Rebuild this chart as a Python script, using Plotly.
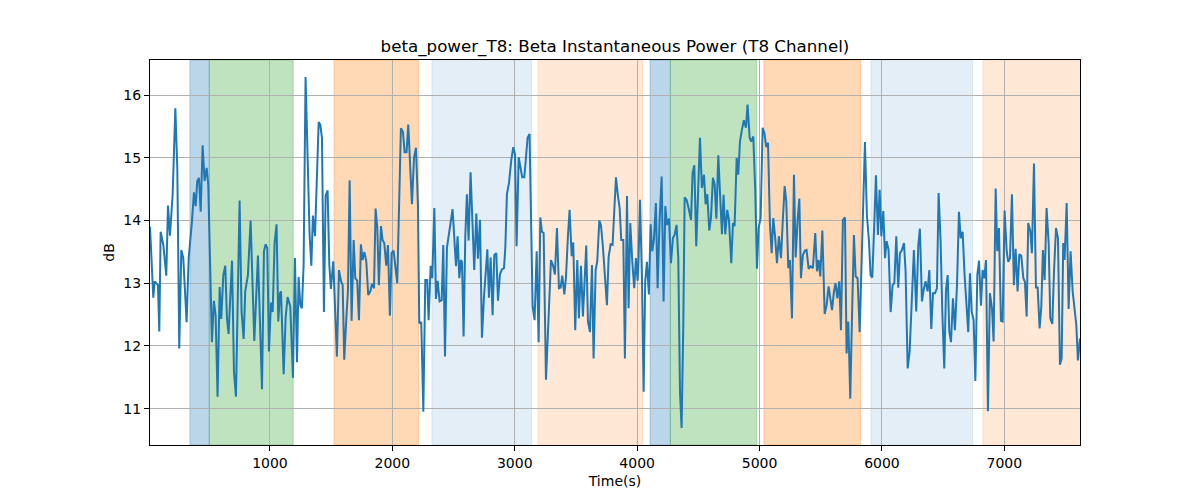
import plotly.graph_objects as go

# sample times (s) and beta power (dB)
time_s = [
    20, 47, 58, 74, 85, 96, 107, 129, 153, 167, 183, 205, 227, 243, 259, 276, 292, 319, 336, 363,
    379, 393, 406, 420, 434, 450, 466, 483, 496, 526, 542, 556, 572, 589, 602, 619, 635, 649, 662, 690,
    706, 722, 752, 768, 785, 798, 820, 842, 872, 902, 918, 935, 951, 965, 978, 992, 1008, 1022, 1038, 1054,
    1068, 1082, 1090, 1112, 1128, 1144, 1166, 1188, 1204, 1221, 1234, 1248, 1261, 1275, 1291, 1308, 1324, 1338, 1351, 1368,
    1381, 1398, 1411, 1425, 1441, 1455, 1471, 1485, 1498, 1507, 1517, 1531, 1547, 1564, 1580, 1594, 1607, 1624, 1637, 1651,
    1667, 1684, 1697, 1713, 1727, 1743, 1757, 1771, 1787, 1803, 1820, 1833, 1850, 1863, 1877, 1890, 1907, 1920, 1934, 1950,
    1964, 1980, 1994, 2010, 2027, 2040, 2070, 2087, 2100, 2116, 2130, 2160, 2177, 2193, 2209, 2220, 2236, 2253, 2269, 2285,
    2296, 2313, 2326, 2343, 2356, 2370, 2386, 2403, 2416, 2430, 2446, 2462, 2476, 2492, 2506, 2520, 2533, 2547, 2560, 2569,
    2582, 2596, 2609, 2623, 2639, 2656, 2669, 2686, 2699, 2716, 2732, 2748, 2762, 2776, 2789, 2803, 2819, 2833, 2849, 2863,
    2879, 2895, 2912, 2923, 2936, 2953, 2972, 2988, 3002, 3015, 3032, 3048, 3061, 3078, 3091, 3105, 3121, 3146, 3162, 3179,
    3195, 3209, 3222, 3236, 3255, 3296, 3312, 3328, 3345, 3361, 3375, 3388, 3405, 3418, 3435, 3448, 3465, 3478, 3494, 3511,
    3524, 3541, 3557, 3571, 3584, 3598, 3614, 3631, 3644, 3661, 3674, 3691, 3704, 3720, 3737, 3753, 3767, 3783, 3799, 3813,
    3827, 3843, 3857, 3870, 3887, 3900, 3917, 3930, 3944, 3960, 3976, 3990, 4004, 4012, 4023, 4039, 4053, 4066, 4080, 4096,
    4110, 4123, 4137, 4153, 4167, 4183, 4200, 4216, 4230, 4243, 4260, 4276, 4292, 4306, 4322, 4336, 4350, 4363, 4377, 4388,
    4404, 4420, 4440, 4453, 4467, 4483, 4500, 4513, 4529, 4546, 4559, 4573, 4589, 4603, 4619, 4633, 4647, 4663, 4676, 4693,
    4706, 4720, 4736, 4750, 4769, 4783, 4796, 4813, 4826, 4840, 4856, 4872, 4889, 4902, 4919, 4932, 4949, 4965, 4979, 4992,
    5009, 5025, 5039, 5055, 5069, 5085, 5099, 5112, 5128, 5142, 5158, 5175, 5191, 5205, 5218, 5235, 5248, 5265, 5281, 5295,
    5311, 5325, 5338, 5354, 5371, 5384, 5401, 5417, 5436, 5455, 5469, 5483, 5496, 5513, 5532, 5548, 5564, 5578, 5592, 5608,
    5621, 5635, 5651, 5665, 5681, 5698, 5711, 5725, 5741, 5755, 5771, 5785, 5801, 5818, 5861, 5877, 5894, 5907, 5921, 5937,
    5951, 5967, 5981, 5995, 6011, 6025, 6038, 6054, 6071, 6087, 6101, 6117, 6133, 6147, 6163, 6180, 6193, 6210, 6226, 6242,
    6261, 6280, 6297, 6310, 6327, 6340, 6357, 6373, 6387, 6403, 6417, 6433, 6449, 6463, 6479, 6493, 6509, 6523, 6537, 6550,
    6564, 6580, 6596, 6613, 6629, 6643, 6659, 6675, 6689, 6705, 6719, 6733, 6749, 6763, 6779, 6793, 6809, 6822, 6836, 6850,
    6866, 6882, 6899, 6912, 6929, 6942, 6956, 6972, 6986, 7002, 7019, 7032, 7046, 7062, 7078, 7092, 7108, 7122, 7138, 7155,
    7168, 7182, 7195, 7212, 7225, 7242, 7258, 7272, 7288, 7302, 7315, 7329, 7345, 7362, 7375, 7392, 7405, 7422, 7438, 7454,
    7468, 7481, 7492, 7509, 7525, 7541, 7558, 7574, 7588, 7601, 7618,
]

power_db = [
    13.90, 12.77, 13.03, 13.00, 12.97, 12.23, 13.82, 13.61, 13.12, 14.24, 13.76, 14.41, 15.79, 14.84, 11.96, 13.53, 13.40, 12.38, 13.40, 13.99,
    14.45, 14.23, 14.63, 14.68, 14.14, 15.20, 14.63, 14.84, 14.57, 12.06, 12.72, 12.49, 11.19, 12.94, 12.43, 13.13, 13.28, 12.43, 12.19, 13.36,
    11.59, 11.19, 14.32, 12.55, 12.11, 12.87, 13.13, 14.00, 12.08, 13.44, 12.55, 11.31, 13.51, 13.62, 13.56, 11.91, 12.69, 12.54, 13.64, 13.94,
    12.39, 12.84, 12.87, 11.55, 12.45, 12.78, 12.63, 11.49, 13.40, 11.74, 13.10, 12.65, 12.60, 13.29, 16.29, 15.00, 13.77, 13.28, 14.08, 13.75,
    14.47, 15.57, 15.53, 15.32, 12.54, 14.40, 14.48, 13.29, 12.91, 13.13, 13.35, 12.65, 11.83, 13.21, 13.04, 12.97, 11.78, 12.44, 12.87, 14.64,
    12.40, 13.69, 13.08, 13.04, 12.41, 13.62, 13.37, 13.50, 13.35, 12.81, 12.87, 12.99, 12.92, 14.19, 13.88, 12.97, 13.91, 13.69, 13.64, 13.28,
    13.61, 12.48, 13.48, 13.52, 13.24, 13.00, 15.47, 15.41, 15.09, 15.09, 15.53, 14.26, 15.00, 15.16, 14.25, 12.36, 12.38, 10.95, 13.05, 13.05,
    12.41, 13.28, 13.08, 14.20, 12.75, 13.04, 12.71, 12.73, 13.61, 11.83, 13.57, 13.77, 13.91, 14.18, 13.72, 13.27, 13.75, 13.08, 13.37, 13.34,
    12.15, 13.75, 14.42, 13.68, 14.77, 13.83, 13.21, 14.11, 13.39, 14.01, 12.13, 12.76, 13.19, 13.54, 12.77, 13.41, 12.49, 13.45, 13.48, 12.72,
    13.14, 13.22, 13.24, 13.57, 14.42, 14.60, 14.97, 15.17, 15.06, 13.59, 15.01, 14.81, 14.69, 14.69, 14.97, 15.32, 15.38, 12.63, 12.41, 13.51,
    12.06, 14.05, 13.82, 13.80, 11.46, 13.37, 13.29, 13.14, 13.88, 12.92, 12.93, 13.12, 12.82, 13.08, 13.77, 14.17, 13.43, 13.65, 12.25, 13.37,
    12.44, 13.28, 12.47, 12.97, 13.60, 12.39, 12.22, 13.29, 11.80, 13.21, 13.35, 14.00, 13.93, 13.59, 13.03, 12.65, 13.42, 13.62, 13.61, 14.19,
    14.69, 14.39, 14.20, 13.69, 13.69, 11.80, 14.39, 12.60, 13.96, 13.35, 12.92, 13.40, 13.04, 13.41, 14.33, 13.13, 11.27, 13.03, 13.34, 12.82,
    13.94, 13.51, 13.69, 14.28, 12.92, 13.99, 14.70, 12.71, 14.23, 13.93, 14.03, 13.32, 13.72, 13.77, 13.93, 13.40, 11.27, 10.69, 12.33, 14.37,
    14.33, 14.20, 14.01, 14.76, 14.88, 13.59, 14.47, 15.32, 14.52, 14.73, 14.26, 14.42, 13.84, 14.04, 14.68, 14.58, 14.03, 15.04, 14.47, 13.78,
    14.41, 13.78, 14.17, 14.01, 13.32, 13.96, 13.91, 15.00, 14.73, 15.26, 15.45, 15.60, 15.48, 15.85, 15.32, 15.26, 15.34, 14.47, 13.23, 13.88,
    14.04, 15.48, 15.40, 15.17, 15.24, 13.93, 13.48, 14.04, 13.72, 13.32, 13.75, 13.40, 14.04, 14.55, 14.31, 13.24, 13.37, 12.44, 14.73, 13.41,
    14.01, 14.35, 13.08, 13.45, 13.52, 13.53, 13.23, 13.27, 13.24, 13.80, 13.19, 13.37, 13.11, 13.84, 12.51, 12.65, 12.95, 12.75, 12.57, 12.87,
    13.00, 12.76, 13.03, 12.25, 14.01, 14.05, 11.88, 12.39, 11.16, 12.44, 13.77, 13.11, 13.08, 12.22, 15.25, 14.09, 13.67, 13.13, 13.09, 13.93,
    14.72, 13.77, 14.49, 13.75, 14.15, 13.40, 13.67, 13.53, 12.54, 12.97, 13.00, 13.75, 12.93, 13.48, 13.53, 13.64, 13.19, 11.64, 11.91, 12.65,
    13.53, 12.55, 13.61, 13.87, 12.71, 12.89, 13.03, 12.87, 13.21, 12.27, 12.84, 12.84, 12.92, 14.44, 13.67, 12.55, 11.64, 12.89, 13.13, 12.23,
    12.06, 12.76, 12.25, 12.97, 14.14, 13.72, 13.82, 13.13, 12.68, 12.22, 13.16, 12.55, 12.41, 11.44, 13.13, 13.36, 12.64, 13.21, 13.08, 13.37,
    10.96, 12.84, 12.60, 12.07, 14.51, 13.51, 13.88, 12.40, 12.39, 14.16, 13.51, 13.34, 13.40, 14.42, 12.97, 13.55, 12.87, 13.46, 13.44, 13.08,
    13.02, 12.47, 13.96, 13.83, 13.48, 14.91, 12.93, 12.93, 12.28, 12.63, 13.53, 13.05, 14.20, 13.64, 12.44, 12.35, 13.16, 13.88, 13.72, 11.70,
    11.80, 13.64, 13.37, 14.28, 12.59, 13.51, 12.87, 12.55, 12.33, 11.77, 12.12,
]

# shaded epochs: start, end, colour
span_start = [346, 504, 1523, 2323, 3190, 4105, 4271, 5036, 5910, 6825]
span_end = [504, 1190, 2215, 3138, 4045, 4271, 4976, 5826, 6741, 7640]
span_color = [
    "rgba(31,119,180,0.3)", "rgba(44,160,44,0.3)", "rgba(255,127,14,0.3)",
    "rgba(31,119,180,0.12)", "rgba(255,127,14,0.17)",
    "rgba(31,119,180,0.3)", "rgba(44,160,44,0.3)", "rgba(255,127,14,0.3)",
    "rgba(31,119,180,0.12)", "rgba(255,127,14,0.17)",
]

fig = go.Figure()

for x0, x1, c in zip(span_start, span_end, span_color):
    fig.add_shape(
        type="rect", xref="x", yref="paper", x0=x0, x1=x1, y0=0, y1=1,
        fillcolor=c, line=dict(color=c, width=1), layer="below",
    )

fig.add_trace(
    go.Scatter(
        x=time_s, y=power_db, mode="lines",
        line=dict(color="#1f77b4", width=2),
        showlegend=False,
    )
)

axis_common = dict(
    showline=True, linecolor="black", linewidth=1, mirror=True,
    ticks="outside", ticklen=5, tickcolor="black",
    showgrid=True, gridcolor="#b0b0b0", gridwidth=1,
    zeroline=False,
    tickfont=dict(family="DejaVu Sans", size=14, color="black"),
)

fig.update_xaxes(
    range=[20, 7618], tickvals=[1000, 2000, 3000, 4000, 5000, 6000, 7000],
    title=dict(text="Time(s)", font=dict(family="DejaVu Sans", size=14, color="black"), standoff=6),
    **axis_common,
)
fig.update_yaxes(
    range=[10.42, 16.56], tickvals=[11, 12, 13, 14, 15, 16],
    title=dict(text="dB", font=dict(family="DejaVu Sans", size=14, color="black"), standoff=5),
    **axis_common,
)

# the page adds an 8px body margin, so the margins are shifted to compensate
fig.update_layout(
    width=1200, height=500,
    margin=dict(l=142, r=128, t=52, b=63),
    paper_bgcolor="white", plot_bgcolor="white",
    title=dict(
        text="beta_power_T8: Beta Instantaneous Power (T8 Channel)",
        x=0.5058, xanchor="center", y=0.924, yanchor="middle",
        font=dict(family="DejaVu Sans", size=16.7, color="black"),
    ),
)

fig.write_html("out.html")
